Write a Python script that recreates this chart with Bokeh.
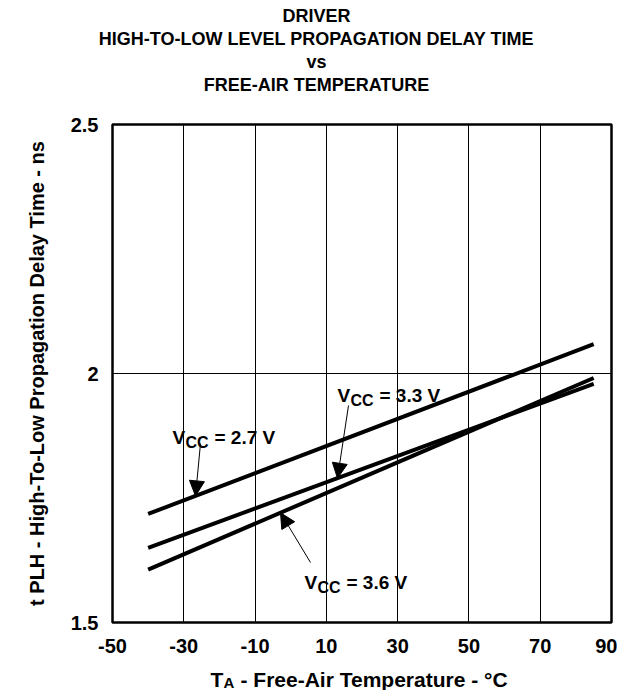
import numpy as np
from bokeh.plotting import figure
from bokeh.layouts import column
from bokeh.models import Range1d, FixedTicker, Label, Arrow, NormalHead, CustomJSTickFormatter
from bokeh.embed import file_html
from bokeh.resources import INLINE

# ---- data ----
temp = [-40, 85]
v27 = [1.718, 2.059]
v33 = [1.650, 1.979]
v36 = [1.606, 1.991]
x_ticks = [-50, -30, -10, 10, 30, 50, 70, 90]
y_ticks = [1.5, 2.0, 2.5]
title_lines = ["DRIVER", "HIGH-TO-LOW LEVEL PROPAGATION DELAY TIME", "vs", "FREE-AIR TEMPERATURE"]
series_labels = ["2.7 V", "3.3 V", "3.6 V"]
y_title = "t PLH - High-To-Low Propagation Delay Time - ns"
x_title_main, x_title_sub, x_title_rest = "T", "A", "- Free-Air Temperature - \u00b0C"

FONT = "Liberation Sans"
W = 617
TOTAL_H = 690
TOP_H = 112          # title strip height
FL, FR, FT, FB = 112, 611, 124, 622   # plot frame (page pixels)
MAIN_BOTTOM = 34
MAIN_H = (FT - TOP_H) + (FB - FT) + MAIN_BOTTOM
BOT_H = TOTAL_H - TOP_H - MAIN_H
XMIN, XMAX, YMIN, YMAX = -50, 90, 1.5, 2.5


def X(px):
    return XMIN + (px - FL) * (XMAX - XMIN) / (FR - FL)


def Y(py):
    return YMAX - (py - FT) * (YMAX - YMIN) / (FB - FT)


def strip(h):
    f = figure(width=W, height=h, output_backend="svg", toolbar_location=None,
               x_range=Range1d(0, W), y_range=Range1d(h, 0),
               x_axis_type=None, y_axis_type=None, frame_align=False,
               min_border=0, min_border_left=0, min_border_right=0,
               min_border_top=0, min_border_bottom=0)
    f.outline_line_color = None
    f.grid.visible = False
    return f


def slab(fig, text, x, y, size, align="left", baseline="alphabetic"):
    fig.add_layout(Label(x=x, y=y, text=text, text_font=FONT, text_font_style="bold",
                         text_font_size=size, text_align=align, text_baseline=baseline,
                         text_color="black"))


# ---- title strip ----
top = strip(TOP_H)
for line, cy in zip(title_lines, [15, 38, 61, 84]):
    slab(top, line, 316, cy, "18px", align="center", baseline="middle")

# ---- main plot ----
p = figure(width=W, height=MAIN_H, output_backend="svg", toolbar_location=None,
           x_range=Range1d(XMIN, XMAX), y_range=Range1d(YMIN, YMAX), frame_align=False,
           min_border_left=FL, min_border_right=W - FR,
           min_border_top=FT - TOP_H, min_border_bottom=MAIN_BOTTOM)
p.outline_line_color = "black"
p.outline_line_width = 2.5

for ax in (p.xaxis[0], p.yaxis[0]):
    ax.axis_line_color = None
    ax.major_tick_line_color = None
    ax.minor_tick_line_color = None
    ax.major_label_text_font = FONT
    ax.major_label_text_font_style = "bold"
    ax.major_label_text_font_size = "20px"
    ax.major_label_text_color = "black"
    ax.formatter = CustomJSTickFormatter(code="return tick.toString()")

p.xaxis.ticker = FixedTicker(ticks=x_ticks)
p.xaxis.major_label_standoff = 10
p.yaxis.ticker = FixedTicker(ticks=y_ticks)
p.yaxis.major_label_standoff = 8
p.yaxis.axis_label = y_title
p.yaxis.axis_label_text_font = FONT
p.yaxis.axis_label_text_font_style = "bold"
p.yaxis.axis_label_text_font_size = "20px"
p.yaxis.axis_label_text_color = "black"
p.yaxis.axis_label_standoff = 20

p.xgrid.ticker = FixedTicker(ticks=x_ticks[1:-1])
p.ygrid.ticker = FixedTicker(ticks=[2.0])
for g in (p.xgrid[0], p.ygrid[0]):
    g.grid_line_color = "black"
    g.grid_line_width = 1
    g.grid_line_alpha = 1.0

series = [v27, v33, v36]
for ys in series:
    p.line(temp, ys, line_color="black", line_width=4)


def lab(text, px, py, size):
    p.add_layout(Label(x=X(px), y=Y(py), text=text, text_font=FONT, text_font_style="bold",
                       text_font_size=size, text_align="left", text_baseline="alphabetic",
                       text_color="black"))


# curve annotations: (label, series, text-left px, baseline px, arrow start px, arrow tip x px)
ann = [
    (series_labels[0], v27, 172, 437, (200, 443), 195),
    (series_labels[1], v33, 337, 395, (348, 405), 337),
    (series_labels[2], v36, 304, 582, (310, 562), 280),
]
for text, ys, lx, by, (sx, sy), tx in ann:
    lab("V", lx, by, "19px")
    lab("CC", lx + 13, by + 5, "16px")
    lab("= " + text, lx + 42, by, "19px")
    tip_t = X(tx)
    tip_v = float(np.interp(tip_t, temp, ys))
    p.add_layout(Arrow(x_start=X(sx), y_start=Y(sy), x_end=tip_t, y_end=tip_v,
                       line_color="black", line_width=1,
                       end=NormalHead(size=15, fill_color="black", line_color="black")))

# ---- x-axis title strip (with subscript) ----
bot = strip(BOT_H)
base = 679 - (TOP_H + MAIN_H)
slab(bot, x_title_main, 210, base, "21px")
slab(bot, x_title_sub, 223, base + 3, "15px")
slab(bot, x_title_rest, 240, base, "21px")

layout = column(top, p, bot, spacing=0)
open("out.html", "w").write(file_html(layout, INLINE))
